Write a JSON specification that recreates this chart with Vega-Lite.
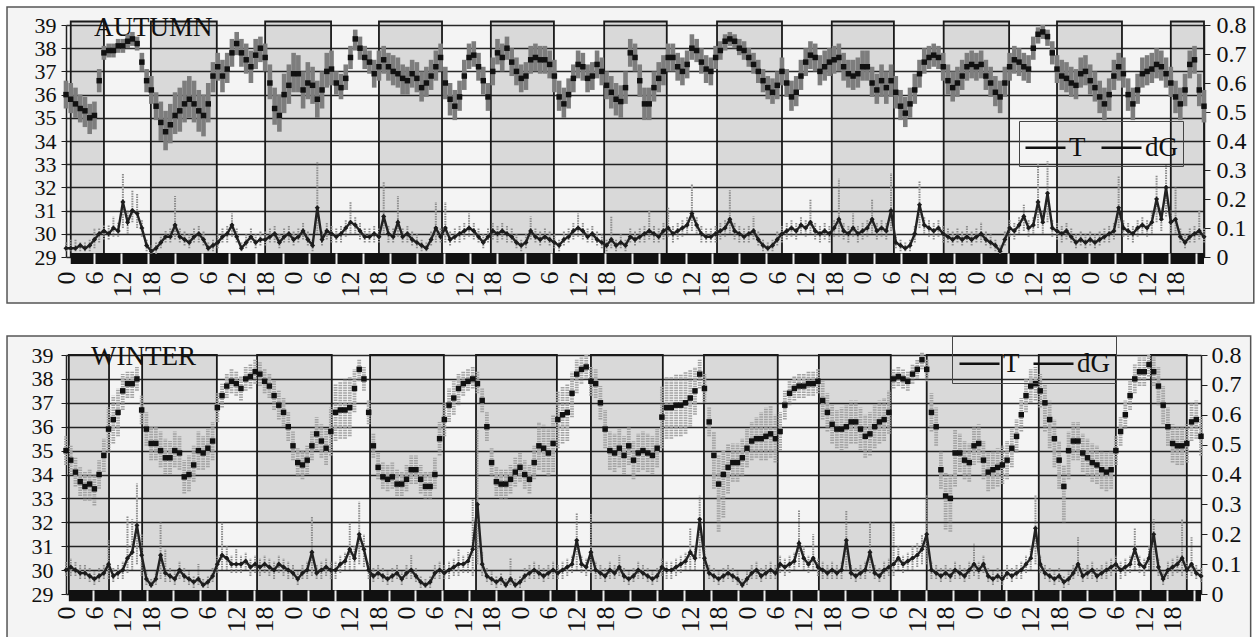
{
  "$schema": "https://vega.github.io/schema/vega-lite/v6.json",
  "background": "white",
  "padding": {"left": 6, "top": 6, "right": 2, "bottom": 2},
  "spacing": 31,
  "config": {
    "font": "Liberation Serif",
    "view": {"stroke": null},
    "axis": {"labelFont": "Liberation Serif", "labelColor": "#111"}
  },
  "resolve": {"scale": {"color": "independent", "x": "independent", "y": "independent"}, "legend": {"color": "independent"}},
  "datasets": {
    "nightA": [
      {"s": 1, "e": 8}, {"s": 17.9, "e": 31.8}, {"s": 42, "e": 55.9}, {"s": 66, "e": 79.3},
      {"s": 89.6, "e": 102.9}, {"s": 113.5, "e": 126.7}, {"s": 137.3, "e": 151}, {"s": 161.5, "e": 174.6},
      {"s": 185.1, "e": 198.9}, {"s": 209, "e": 222.7}, {"s": 233, "e": 240}
    ],
    "nightW": [
      {"s": 0.6, "e": 9.1}, {"s": 16.1, "e": 31.9}, {"s": 40.4, "e": 56.2}, {"s": 64.3, "e": 79.9},
      {"s": 86.7, "e": 103.8}, {"s": 111, "e": 126.2}, {"s": 134.9, "e": 150.5}, {"s": 159.2, "e": 174.4},
      {"s": 182, "e": 197.9}, {"s": 205.7, "e": 222}, {"s": 229.4, "e": 237}
    ],
    "autumn": [
      {"h":0,"t":36.0,"tl":35.4,"th":36.6,"g":0.03,"gl":0.02,"gh":0.05},
      {"h":1,"t":35.8,"tl":35.2,"th":36.5,"g":0.03,"gl":0.02,"gh":0.06},
      {"h":2,"t":35.6,"tl":35.0,"th":36.3,"g":0.03,"gl":0.02,"gh":0.06},
      {"h":3,"t":35.4,"tl":34.8,"th":36.0,"g":0.04,"gl":0.02,"gh":0.05},
      {"h":4,"t":35.3,"tl":34.6,"th":35.9,"g":0.03,"gl":0.02,"gh":0.05},
      {"h":5,"t":35.0,"tl":34.3,"th":35.6,"g":0.04,"gl":0.02,"gh":0.06},
      {"h":6,"t":35.1,"tl":34.5,"th":35.7,"g":0.06,"gl":0.03,"gh":0.1},
      {"h":7,"t":36.6,"tl":36.1,"th":37.1,"g":0.08,"gl":0.05,"gh":0.1},
      {"h":8,"t":37.8,"tl":37.5,"th":38.1,"g":0.09,"gl":0.06,"gh":0.11},
      {"h":9,"t":37.9,"tl":37.6,"th":38.2,"g":0.08,"gl":0.06,"gh":0.11},
      {"h":10,"t":37.9,"tl":37.6,"th":38.2,"g":0.1,"gl":0.07,"gh":0.14},
      {"h":11,"t":38.1,"tl":37.8,"th":38.4,"g":0.09,"gl":0.07,"gh":0.12},
      {"h":12,"t":38.1,"tl":37.8,"th":38.4,"g":0.19,"gl":0.1,"gh":0.29},
      {"h":13,"t":38.3,"tl":38.0,"th":38.6,"g":0.12,"gl":0.08,"gh":0.16},
      {"h":14,"t":38.4,"tl":38.1,"th":38.7,"g":0.16,"gl":0.12,"gh":0.23},
      {"h":15,"t":38.2,"tl":37.9,"th":38.5,"g":0.15,"gl":0.1,"gh":0.22},
      {"h":16,"t":37.4,"tl":37.0,"th":37.8,"g":0.1,"gl":0.07,"gh":0.13},
      {"h":17,"t":36.6,"tl":36.1,"th":37.1,"g":0.04,"gl":0.02,"gh":0.06},
      {"h":18,"t":36.2,"tl":35.6,"th":36.8,"g":0.02,"gl":0.01,"gh":0.04},
      {"h":19,"t":35.5,"tl":34.9,"th":36.1,"g":0.03,"gl":0.01,"gh":0.05},
      {"h":20,"t":34.8,"tl":34.0,"th":35.7,"g":0.05,"gl":0.03,"gh":0.07},
      {"h":21,"t":34.4,"tl":33.6,"th":35.3,"g":0.07,"gl":0.05,"gh":0.09},
      {"h":22,"t":34.7,"tl":33.9,"th":35.6,"g":0.07,"gl":0.05,"gh":0.1},
      {"h":23,"t":35.1,"tl":34.3,"th":36.1,"g":0.11,"gl":0.06,"gh":0.21},
      {"h":24,"t":35.3,"tl":34.4,"th":36.3,"g":0.07,"gl":0.05,"gh":0.1},
      {"h":25,"t":35.6,"tl":34.8,"th":36.6,"g":0.06,"gl":0.04,"gh":0.09},
      {"h":26,"t":35.8,"tl":35.0,"th":36.8,"g":0.05,"gl":0.03,"gh":0.08},
      {"h":27,"t":35.6,"tl":34.8,"th":36.6,"g":0.07,"gl":0.05,"gh":0.1},
      {"h":28,"t":35.3,"tl":34.4,"th":36.2,"g":0.08,"gl":0.05,"gh":0.11},
      {"h":29,"t":35.1,"tl":34.2,"th":36.0,"g":0.06,"gl":0.04,"gh":0.09},
      {"h":30,"t":35.6,"tl":34.8,"th":36.5,"g":0.03,"gl":0.02,"gh":0.05},
      {"h":31,"t":36.8,"tl":36.1,"th":37.4,"g":0.04,"gl":0.02,"gh":0.06},
      {"h":32,"t":37.2,"tl":36.6,"th":37.8,"g":0.05,"gl":0.03,"gh":0.08},
      {"h":33,"t":36.8,"tl":36.1,"th":37.5,"g":0.07,"gl":0.05,"gh":0.1},
      {"h":34,"t":37.1,"tl":36.5,"th":37.8,"g":0.08,"gl":0.05,"gh":0.11},
      {"h":35,"t":37.8,"tl":37.2,"th":38.4,"g":0.11,"gl":0.07,"gh":0.15},
      {"h":36,"t":38.2,"tl":37.7,"th":38.7,"g":0.07,"gl":0.05,"gh":0.1},
      {"h":37,"t":37.8,"tl":37.2,"th":38.4,"g":0.03,"gl":0.02,"gh":0.05},
      {"h":38,"t":37.5,"tl":36.9,"th":38.2,"g":0.05,"gl":0.03,"gh":0.08},
      {"h":39,"t":37.2,"tl":36.5,"th":37.9,"g":0.07,"gl":0.05,"gh":0.1},
      {"h":40,"t":37.7,"tl":37.1,"th":38.4,"g":0.05,"gl":0.03,"gh":0.08},
      {"h":41,"t":38.0,"tl":37.4,"th":38.5,"g":0.06,"gl":0.04,"gh":0.09},
      {"h":42,"t":37.6,"tl":37.0,"th":38.2,"g":0.06,"gl":0.04,"gh":0.09},
      {"h":43,"t":36.5,"tl":35.8,"th":37.3,"g":0.07,"gl":0.05,"gh":0.1},
      {"h":44,"t":35.4,"tl":34.7,"th":36.3,"g":0.08,"gl":0.05,"gh":0.11},
      {"h":45,"t":35.1,"tl":34.4,"th":36.0,"g":0.05,"gl":0.03,"gh":0.08},
      {"h":46,"t":36.0,"tl":35.2,"th":36.9,"g":0.07,"gl":0.05,"gh":0.1},
      {"h":47,"t":36.4,"tl":35.6,"th":37.3,"g":0.08,"gl":0.05,"gh":0.11},
      {"h":48,"t":36.9,"tl":36.1,"th":37.8,"g":0.06,"gl":0.04,"gh":0.09},
      {"h":49,"t":36.9,"tl":36.1,"th":37.7,"g":0.07,"gl":0.05,"gh":0.1},
      {"h":50,"t":36.2,"tl":35.4,"th":37.0,"g":0.09,"gl":0.06,"gh":0.12},
      {"h":51,"t":36.5,"tl":35.8,"th":37.4,"g":0.06,"gl":0.04,"gh":0.09},
      {"h":52,"t":36.4,"tl":35.6,"th":37.2,"g":0.04,"gl":0.02,"gh":0.06},
      {"h":53,"t":35.8,"tl":35.0,"th":36.6,"g":0.17,"gl":0.08,"gh":0.33},
      {"h":54,"t":36.2,"tl":35.4,"th":37.0,"g":0.06,"gl":0.04,"gh":0.09},
      {"h":55,"t":37.0,"tl":36.3,"th":37.8,"g":0.09,"gl":0.06,"gh":0.12},
      {"h":56,"t":37.1,"tl":36.4,"th":37.9,"g":0.08,"gl":0.05,"gh":0.11},
      {"h":57,"t":36.5,"tl":36.0,"th":37.0,"g":0.07,"gl":0.05,"gh":0.1},
      {"h":58,"t":36.3,"tl":35.8,"th":36.9,"g":0.08,"gl":0.05,"gh":0.11},
      {"h":59,"t":36.7,"tl":36.2,"th":37.3,"g":0.1,"gl":0.07,"gh":0.13},
      {"h":60,"t":37.6,"tl":37.1,"th":38.1,"g":0.12,"gl":0.08,"gh":0.19},
      {"h":61,"t":38.4,"tl":37.9,"th":38.8,"g":0.11,"gl":0.08,"gh":0.14},
      {"h":62,"t":38.0,"tl":37.5,"th":38.5,"g":0.09,"gl":0.06,"gh":0.12},
      {"h":63,"t":37.6,"tl":37.1,"th":38.1,"g":0.07,"gl":0.05,"gh":0.1},
      {"h":64,"t":37.4,"tl":36.9,"th":37.9,"g":0.07,"gl":0.05,"gh":0.1},
      {"h":65,"t":36.9,"tl":36.3,"th":37.5,"g":0.08,"gl":0.05,"gh":0.11},
      {"h":66,"t":37.2,"tl":36.6,"th":37.9,"g":0.07,"gl":0.05,"gh":0.1},
      {"h":67,"t":37.5,"tl":36.9,"th":38.1,"g":0.14,"gl":0.08,"gh":0.26},
      {"h":68,"t":37.2,"tl":36.6,"th":37.8,"g":0.08,"gl":0.05,"gh":0.11},
      {"h":69,"t":37.0,"tl":36.4,"th":37.7,"g":0.07,"gl":0.05,"gh":0.1},
      {"h":70,"t":36.9,"tl":36.3,"th":37.6,"g":0.12,"gl":0.07,"gh":0.21},
      {"h":71,"t":36.7,"tl":36.0,"th":37.3,"g":0.07,"gl":0.05,"gh":0.1},
      {"h":72,"t":36.6,"tl":36.0,"th":37.2,"g":0.08,"gl":0.05,"gh":0.11},
      {"h":73,"t":36.9,"tl":36.3,"th":37.5,"g":0.06,"gl":0.04,"gh":0.09},
      {"h":74,"t":36.7,"tl":36.1,"th":37.4,"g":0.05,"gl":0.03,"gh":0.08},
      {"h":75,"t":36.3,"tl":35.7,"th":37.0,"g":0.04,"gl":0.02,"gh":0.06},
      {"h":76,"t":36.5,"tl":35.9,"th":37.2,"g":0.03,"gl":0.02,"gh":0.05},
      {"h":77,"t":36.8,"tl":36.2,"th":37.5,"g":0.06,"gl":0.04,"gh":0.09},
      {"h":78,"t":37.2,"tl":36.6,"th":37.9,"g":0.1,"gl":0.05,"gh":0.19},
      {"h":79,"t":37.6,"tl":37.0,"th":38.2,"g":0.07,"gl":0.05,"gh":0.1},
      {"h":80,"t":36.5,"tl":35.8,"th":37.2,"g":0.1,"gl":0.05,"gh":0.19},
      {"h":81,"t":35.8,"tl":35.1,"th":36.5,"g":0.06,"gl":0.04,"gh":0.09},
      {"h":82,"t":35.5,"tl":34.9,"th":36.2,"g":0.07,"gl":0.05,"gh":0.1},
      {"h":83,"t":35.9,"tl":35.3,"th":36.6,"g":0.08,"gl":0.05,"gh":0.11},
      {"h":84,"t":36.8,"tl":36.2,"th":37.5,"g":0.09,"gl":0.06,"gh":0.12},
      {"h":85,"t":37.6,"tl":37.1,"th":38.2,"g":0.1,"gl":0.07,"gh":0.15},
      {"h":86,"t":37.7,"tl":37.2,"th":38.3,"g":0.09,"gl":0.06,"gh":0.12},
      {"h":87,"t":37.2,"tl":36.6,"th":37.8,"g":0.07,"gl":0.05,"gh":0.1},
      {"h":88,"t":36.6,"tl":36.0,"th":37.2,"g":0.05,"gl":0.03,"gh":0.08},
      {"h":89,"t":35.9,"tl":35.3,"th":36.5,"g":0.07,"gl":0.05,"gh":0.1},
      {"h":90,"t":37.0,"tl":36.4,"th":37.6,"g":0.09,"gl":0.06,"gh":0.12},
      {"h":91,"t":37.8,"tl":37.3,"th":38.4,"g":0.08,"gl":0.05,"gh":0.11},
      {"h":92,"t":37.6,"tl":37.0,"th":38.2,"g":0.09,"gl":0.06,"gh":0.12},
      {"h":93,"t":38.0,"tl":37.5,"th":38.5,"g":0.08,"gl":0.05,"gh":0.11},
      {"h":94,"t":37.4,"tl":36.8,"th":38.0,"g":0.07,"gl":0.05,"gh":0.1},
      {"h":95,"t":37.0,"tl":36.4,"th":37.6,"g":0.05,"gl":0.03,"gh":0.08},
      {"h":96,"t":36.7,"tl":36.1,"th":37.3,"g":0.04,"gl":0.02,"gh":0.06},
      {"h":97,"t":36.8,"tl":36.2,"th":37.4,"g":0.05,"gl":0.03,"gh":0.08},
      {"h":98,"t":37.5,"tl":36.9,"th":38.1,"g":0.09,"gl":0.06,"gh":0.14},
      {"h":99,"t":37.6,"tl":37.0,"th":38.2,"g":0.07,"gl":0.05,"gh":0.1},
      {"h":100,"t":37.5,"tl":36.9,"th":38.1,"g":0.06,"gl":0.04,"gh":0.09},
      {"h":101,"t":37.5,"tl":36.9,"th":38.1,"g":0.07,"gl":0.05,"gh":0.1},
      {"h":102,"t":37.3,"tl":36.7,"th":37.9,"g":0.06,"gl":0.04,"gh":0.09},
      {"h":103,"t":36.8,"tl":36.1,"th":37.5,"g":0.05,"gl":0.03,"gh":0.08},
      {"h":104,"t":35.9,"tl":35.3,"th":36.6,"g":0.04,"gl":0.02,"gh":0.06},
      {"h":105,"t":35.6,"tl":35.0,"th":36.3,"g":0.06,"gl":0.04,"gh":0.09},
      {"h":106,"t":36.0,"tl":35.4,"th":36.7,"g":0.07,"gl":0.05,"gh":0.1},
      {"h":107,"t":36.7,"tl":36.1,"th":37.3,"g":0.09,"gl":0.06,"gh":0.12},
      {"h":108,"t":37.3,"tl":36.7,"th":37.9,"g":0.1,"gl":0.07,"gh":0.15},
      {"h":109,"t":37.2,"tl":36.6,"th":37.8,"g":0.09,"gl":0.06,"gh":0.12},
      {"h":110,"t":36.7,"tl":36.1,"th":37.3,"g":0.07,"gl":0.05,"gh":0.1},
      {"h":111,"t":36.8,"tl":36.2,"th":37.4,"g":0.08,"gl":0.05,"gh":0.11},
      {"h":112,"t":37.3,"tl":36.7,"th":37.9,"g":0.06,"gl":0.04,"gh":0.09},
      {"h":113,"t":37.0,"tl":36.4,"th":37.6,"g":0.05,"gl":0.03,"gh":0.08},
      {"h":114,"t":36.4,"tl":35.8,"th":37.0,"g":0.04,"gl":0.02,"gh":0.06},
      {"h":115,"t":36.1,"tl":35.4,"th":36.8,"g":0.06,"gl":0.03,"gh":0.14},
      {"h":116,"t":35.8,"tl":35.1,"th":36.5,"g":0.04,"gl":0.02,"gh":0.06},
      {"h":117,"t":35.7,"tl":35.0,"th":36.4,"g":0.05,"gl":0.03,"gh":0.08},
      {"h":118,"t":36.3,"tl":35.6,"th":37.0,"g":0.04,"gl":0.02,"gh":0.06},
      {"h":119,"t":37.8,"tl":37.2,"th":38.4,"g":0.07,"gl":0.05,"gh":0.1},
      {"h":120,"t":37.6,"tl":37.0,"th":38.2,"g":0.06,"gl":0.04,"gh":0.09},
      {"h":121,"t":36.6,"tl":35.9,"th":37.3,"g":0.07,"gl":0.05,"gh":0.1},
      {"h":122,"t":35.6,"tl":34.9,"th":36.3,"g":0.08,"gl":0.05,"gh":0.11},
      {"h":123,"t":35.6,"tl":34.9,"th":36.3,"g":0.09,"gl":0.06,"gh":0.16},
      {"h":124,"t":36.3,"tl":35.7,"th":37.0,"g":0.08,"gl":0.05,"gh":0.11},
      {"h":125,"t":36.7,"tl":36.1,"th":37.4,"g":0.07,"gl":0.05,"gh":0.1},
      {"h":126,"t":37.0,"tl":36.4,"th":37.7,"g":0.09,"gl":0.06,"gh":0.12},
      {"h":127,"t":37.6,"tl":37.0,"th":38.2,"g":0.1,"gl":0.07,"gh":0.17},
      {"h":128,"t":37.6,"tl":37.0,"th":38.2,"g":0.08,"gl":0.05,"gh":0.11},
      {"h":129,"t":37.2,"tl":36.6,"th":37.8,"g":0.09,"gl":0.06,"gh":0.12},
      {"h":130,"t":37.0,"tl":36.4,"th":37.6,"g":0.1,"gl":0.07,"gh":0.13},
      {"h":131,"t":37.3,"tl":36.7,"th":37.9,"g":0.11,"gl":0.08,"gh":0.14},
      {"h":132,"t":38.0,"tl":37.5,"th":38.6,"g":0.15,"gl":0.09,"gh":0.25},
      {"h":133,"t":37.9,"tl":37.4,"th":38.4,"g":0.11,"gl":0.08,"gh":0.14},
      {"h":134,"t":37.4,"tl":36.9,"th":38.0,"g":0.08,"gl":0.05,"gh":0.11},
      {"h":135,"t":37.1,"tl":36.5,"th":37.7,"g":0.07,"gl":0.05,"gh":0.1},
      {"h":136,"t":37.0,"tl":36.4,"th":37.6,"g":0.07,"gl":0.05,"gh":0.1},
      {"h":137,"t":37.6,"tl":37.1,"th":38.1,"g":0.08,"gl":0.05,"gh":0.11},
      {"h":138,"t":37.9,"tl":37.5,"th":38.3,"g":0.09,"gl":0.06,"gh":0.12},
      {"h":139,"t":38.3,"tl":37.9,"th":38.6,"g":0.1,"gl":0.07,"gh":0.13},
      {"h":140,"t":38.4,"tl":38.1,"th":38.7,"g":0.13,"gl":0.08,"gh":0.23},
      {"h":141,"t":38.3,"tl":38.0,"th":38.6,"g":0.09,"gl":0.06,"gh":0.12},
      {"h":142,"t":38.0,"tl":37.7,"th":38.4,"g":0.08,"gl":0.05,"gh":0.11},
      {"h":143,"t":37.9,"tl":37.5,"th":38.3,"g":0.07,"gl":0.05,"gh":0.1},
      {"h":144,"t":37.6,"tl":37.2,"th":38.0,"g":0.08,"gl":0.05,"gh":0.11},
      {"h":145,"t":37.3,"tl":36.9,"th":37.8,"g":0.09,"gl":0.06,"gh":0.14},
      {"h":146,"t":37.0,"tl":36.5,"th":37.5,"g":0.06,"gl":0.04,"gh":0.09},
      {"h":147,"t":36.6,"tl":36.1,"th":37.1,"g":0.04,"gl":0.02,"gh":0.06},
      {"h":148,"t":36.3,"tl":35.8,"th":36.8,"g":0.03,"gl":0.02,"gh":0.05},
      {"h":149,"t":36.1,"tl":35.6,"th":36.7,"g":0.04,"gl":0.02,"gh":0.06},
      {"h":150,"t":36.4,"tl":35.8,"th":37.0,"g":0.06,"gl":0.04,"gh":0.09},
      {"h":151,"t":37.0,"tl":36.4,"th":37.6,"g":0.08,"gl":0.05,"gh":0.11},
      {"h":152,"t":36.5,"tl":35.9,"th":37.1,"g":0.09,"gl":0.06,"gh":0.12},
      {"h":153,"t":35.9,"tl":35.3,"th":36.6,"g":0.1,"gl":0.07,"gh":0.13},
      {"h":154,"t":36.1,"tl":35.5,"th":36.8,"g":0.09,"gl":0.06,"gh":0.12},
      {"h":155,"t":36.8,"tl":36.2,"th":37.5,"g":0.11,"gl":0.08,"gh":0.14},
      {"h":156,"t":37.4,"tl":36.8,"th":38.0,"g":0.1,"gl":0.07,"gh":0.13},
      {"h":157,"t":37.7,"tl":37.1,"th":38.3,"g":0.12,"gl":0.08,"gh":0.2},
      {"h":158,"t":37.6,"tl":37.0,"th":38.2,"g":0.09,"gl":0.06,"gh":0.12},
      {"h":159,"t":37.0,"tl":36.4,"th":37.7,"g":0.08,"gl":0.05,"gh":0.11},
      {"h":160,"t":37.2,"tl":36.6,"th":37.9,"g":0.09,"gl":0.06,"gh":0.12},
      {"h":161,"t":37.4,"tl":36.8,"th":38.0,"g":0.08,"gl":0.05,"gh":0.11},
      {"h":162,"t":37.5,"tl":36.9,"th":38.1,"g":0.1,"gl":0.07,"gh":0.13},
      {"h":163,"t":37.6,"tl":37.0,"th":38.2,"g":0.13,"gl":0.07,"gh":0.27},
      {"h":164,"t":37.2,"tl":36.6,"th":37.8,"g":0.09,"gl":0.06,"gh":0.12},
      {"h":165,"t":36.9,"tl":36.3,"th":37.5,"g":0.08,"gl":0.05,"gh":0.11},
      {"h":166,"t":36.8,"tl":36.2,"th":37.5,"g":0.1,"gl":0.07,"gh":0.15},
      {"h":167,"t":36.9,"tl":36.3,"th":37.6,"g":0.08,"gl":0.05,"gh":0.11},
      {"h":168,"t":37.2,"tl":36.6,"th":37.9,"g":0.09,"gl":0.06,"gh":0.12},
      {"h":169,"t":37.2,"tl":36.6,"th":37.9,"g":0.1,"gl":0.07,"gh":0.13},
      {"h":170,"t":36.5,"tl":35.9,"th":37.2,"g":0.13,"gl":0.08,"gh":0.2},
      {"h":171,"t":36.2,"tl":35.6,"th":36.9,"g":0.09,"gl":0.06,"gh":0.12},
      {"h":172,"t":36.6,"tl":35.9,"th":37.3,"g":0.1,"gl":0.07,"gh":0.13},
      {"h":173,"t":36.3,"tl":35.6,"th":37.0,"g":0.09,"gl":0.06,"gh":0.12},
      {"h":174,"t":36.6,"tl":35.9,"th":37.3,"g":0.16,"gl":0.09,"gh":0.29},
      {"h":175,"t":36.1,"tl":35.4,"th":36.8,"g":0.05,"gl":0.03,"gh":0.08},
      {"h":176,"t":35.5,"tl":34.9,"th":36.2,"g":0.04,"gl":0.02,"gh":0.06},
      {"h":177,"t":35.2,"tl":34.6,"th":35.9,"g":0.03,"gl":0.02,"gh":0.05},
      {"h":178,"t":35.6,"tl":35.0,"th":36.3,"g":0.04,"gl":0.02,"gh":0.06},
      {"h":179,"t":36.2,"tl":35.6,"th":36.9,"g":0.08,"gl":0.05,"gh":0.11},
      {"h":180,"t":36.9,"tl":36.3,"th":37.5,"g":0.18,"gl":0.1,"gh":0.26},
      {"h":181,"t":37.4,"tl":36.9,"th":38.0,"g":0.11,"gl":0.08,"gh":0.14},
      {"h":182,"t":37.6,"tl":37.1,"th":38.1,"g":0.1,"gl":0.07,"gh":0.13},
      {"h":183,"t":37.7,"tl":37.2,"th":38.2,"g":0.09,"gl":0.06,"gh":0.12},
      {"h":184,"t":37.6,"tl":37.1,"th":38.1,"g":0.1,"gl":0.07,"gh":0.13},
      {"h":185,"t":37.2,"tl":36.6,"th":37.8,"g":0.08,"gl":0.05,"gh":0.11},
      {"h":186,"t":36.6,"tl":36.0,"th":37.3,"g":0.07,"gl":0.05,"gh":0.1},
      {"h":187,"t":36.3,"tl":35.7,"th":37.0,"g":0.06,"gl":0.04,"gh":0.09},
      {"h":188,"t":36.5,"tl":35.9,"th":37.2,"g":0.07,"gl":0.05,"gh":0.1},
      {"h":189,"t":36.8,"tl":36.2,"th":37.5,"g":0.06,"gl":0.04,"gh":0.09},
      {"h":190,"t":37.2,"tl":36.6,"th":37.8,"g":0.07,"gl":0.05,"gh":0.11},
      {"h":191,"t":37.3,"tl":36.7,"th":37.9,"g":0.06,"gl":0.04,"gh":0.09},
      {"h":192,"t":37.2,"tl":36.6,"th":37.8,"g":0.07,"gl":0.05,"gh":0.1},
      {"h":193,"t":37.3,"tl":36.7,"th":37.9,"g":0.08,"gl":0.05,"gh":0.12},
      {"h":194,"t":36.8,"tl":36.2,"th":37.5,"g":0.06,"gl":0.04,"gh":0.09},
      {"h":195,"t":36.5,"tl":35.9,"th":37.2,"g":0.05,"gl":0.03,"gh":0.08},
      {"h":196,"t":36.1,"tl":35.5,"th":36.8,"g":0.04,"gl":0.02,"gh":0.06},
      {"h":197,"t":35.9,"tl":35.2,"th":36.6,"g":0.02,"gl":0.01,"gh":0.04},
      {"h":198,"t":36.5,"tl":35.9,"th":37.2,"g":0.06,"gl":0.04,"gh":0.09},
      {"h":199,"t":37.2,"tl":36.6,"th":37.8,"g":0.1,"gl":0.07,"gh":0.13},
      {"h":200,"t":37.5,"tl":36.9,"th":38.1,"g":0.09,"gl":0.06,"gh":0.12},
      {"h":201,"t":37.4,"tl":36.8,"th":38.0,"g":0.11,"gl":0.08,"gh":0.14},
      {"h":202,"t":37.2,"tl":36.6,"th":37.8,"g":0.14,"gl":0.09,"gh":0.18},
      {"h":203,"t":37.1,"tl":36.5,"th":37.7,"g":0.1,"gl":0.07,"gh":0.13},
      {"h":204,"t":38.0,"tl":37.5,"th":38.5,"g":0.11,"gl":0.08,"gh":0.14},
      {"h":205,"t":38.6,"tl":38.2,"th":38.9,"g":0.19,"gl":0.1,"gh":0.32},
      {"h":206,"t":38.7,"tl":38.4,"th":39.0,"g":0.12,"gl":0.08,"gh":0.16},
      {"h":207,"t":38.5,"tl":38.1,"th":38.8,"g":0.22,"gl":0.12,"gh":0.33},
      {"h":208,"t":37.8,"tl":37.3,"th":38.3,"g":0.1,"gl":0.07,"gh":0.13},
      {"h":209,"t":37.1,"tl":36.5,"th":37.7,"g":0.09,"gl":0.06,"gh":0.12},
      {"h":210,"t":36.8,"tl":36.2,"th":37.5,"g":0.08,"gl":0.05,"gh":0.11},
      {"h":211,"t":36.7,"tl":36.1,"th":37.4,"g":0.09,"gl":0.06,"gh":0.12},
      {"h":212,"t":36.5,"tl":35.9,"th":37.2,"g":0.07,"gl":0.05,"gh":0.1},
      {"h":213,"t":36.4,"tl":35.8,"th":37.1,"g":0.05,"gl":0.03,"gh":0.08},
      {"h":214,"t":36.9,"tl":36.3,"th":37.6,"g":0.06,"gl":0.04,"gh":0.09},
      {"h":215,"t":37.0,"tl":36.4,"th":37.7,"g":0.05,"gl":0.03,"gh":0.08},
      {"h":216,"t":36.6,"tl":36.0,"th":37.3,"g":0.06,"gl":0.04,"gh":0.09},
      {"h":217,"t":36.3,"tl":35.7,"th":37.0,"g":0.05,"gl":0.03,"gh":0.08},
      {"h":218,"t":35.9,"tl":35.2,"th":36.6,"g":0.06,"gl":0.04,"gh":0.09},
      {"h":219,"t":35.6,"tl":34.9,"th":36.3,"g":0.07,"gl":0.05,"gh":0.1},
      {"h":220,"t":36.0,"tl":35.3,"th":36.7,"g":0.08,"gl":0.05,"gh":0.11},
      {"h":221,"t":36.8,"tl":36.2,"th":37.5,"g":0.09,"gl":0.06,"gh":0.12},
      {"h":222,"t":37.2,"tl":36.6,"th":37.8,"g":0.17,"gl":0.1,"gh":0.28},
      {"h":223,"t":36.9,"tl":36.3,"th":37.6,"g":0.1,"gl":0.07,"gh":0.13},
      {"h":224,"t":36.0,"tl":35.3,"th":36.7,"g":0.09,"gl":0.06,"gh":0.12},
      {"h":225,"t":35.6,"tl":34.9,"th":36.3,"g":0.08,"gl":0.05,"gh":0.11},
      {"h":226,"t":36.2,"tl":35.6,"th":36.9,"g":0.1,"gl":0.07,"gh":0.13},
      {"h":227,"t":36.9,"tl":36.3,"th":37.6,"g":0.11,"gl":0.08,"gh":0.14},
      {"h":228,"t":37.0,"tl":36.4,"th":37.7,"g":0.1,"gl":0.07,"gh":0.13},
      {"h":229,"t":37.1,"tl":36.5,"th":37.8,"g":0.12,"gl":0.08,"gh":0.16},
      {"h":230,"t":37.3,"tl":36.7,"th":38.0,"g":0.2,"gl":0.12,"gh":0.28},
      {"h":231,"t":37.2,"tl":36.6,"th":37.9,"g":0.13,"gl":0.09,"gh":0.17},
      {"h":232,"t":36.9,"tl":36.3,"th":37.6,"g":0.24,"gl":0.14,"gh":0.32},
      {"h":233,"t":36.5,"tl":35.9,"th":37.2,"g":0.12,"gl":0.08,"gh":0.16},
      {"h":234,"t":35.9,"tl":35.2,"th":36.6,"g":0.13,"gl":0.08,"gh":0.24},
      {"h":235,"t":35.6,"tl":34.9,"th":36.3,"g":0.07,"gl":0.05,"gh":0.1},
      {"h":236,"t":36.2,"tl":35.5,"th":36.9,"g":0.05,"gl":0.03,"gh":0.08},
      {"h":237,"t":37.3,"tl":36.7,"th":37.9,"g":0.07,"gl":0.05,"gh":0.1},
      {"h":238,"t":37.5,"tl":36.9,"th":38.1,"g":0.08,"gl":0.05,"gh":0.11},
      {"h":239,"t":36.2,"tl":35.5,"th":36.9,"g":0.09,"gl":0.06,"gh":0.16},
      {"h":240,"t":35.5,"tl":34.8,"th":36.2,"g":0.07,"gl":0.05,"gh":0.1}
    ],
    "winter": [
      {"h":0,"t":35.0,"tl":34.4,"th":35.6,"g":0.08,"gl":0.06,"gh":0.11},
      {"h":1,"t":34.6,"tl":34.0,"th":35.2,"g":0.09,"gl":0.06,"gh":0.12},
      {"h":2,"t":34.1,"tl":33.5,"th":34.7,"g":0.08,"gl":0.06,"gh":0.11},
      {"h":3,"t":33.7,"tl":33.1,"th":34.3,"g":0.07,"gl":0.05,"gh":0.1},
      {"h":4,"t":33.5,"tl":32.9,"th":34.1,"g":0.07,"gl":0.05,"gh":0.1},
      {"h":5,"t":33.6,"tl":32.9,"th":34.2,"g":0.06,"gl":0.04,"gh":0.09},
      {"h":6,"t":33.4,"tl":32.7,"th":34.0,"g":0.05,"gl":0.03,"gh":0.08},
      {"h":7,"t":34.0,"tl":33.4,"th":34.6,"g":0.06,"gl":0.04,"gh":0.09},
      {"h":8,"t":34.8,"tl":34.1,"th":35.5,"g":0.07,"gl":0.05,"gh":0.1},
      {"h":9,"t":35.9,"tl":34.9,"th":36.8,"g":0.1,"gl":0.05,"gh":0.18},
      {"h":10,"t":36.3,"tl":35.3,"th":37.3,"g":0.06,"gl":0.04,"gh":0.09},
      {"h":11,"t":36.6,"tl":35.6,"th":37.6,"g":0.07,"gl":0.05,"gh":0.1},
      {"h":12,"t":37.5,"tl":36.7,"th":38.2,"g":0.08,"gl":0.05,"gh":0.11},
      {"h":13,"t":37.8,"tl":37.2,"th":38.3,"g":0.12,"gl":0.07,"gh":0.26},
      {"h":14,"t":37.8,"tl":37.2,"th":38.3,"g":0.14,"gl":0.08,"gh":0.25},
      {"h":15,"t":38.0,"tl":37.5,"th":38.5,"g":0.23,"gl":0.1,"gh":0.37},
      {"h":16,"t":36.7,"tl":36.1,"th":37.3,"g":0.13,"gl":0.06,"gh":0.2},
      {"h":17,"t":35.9,"tl":35.2,"th":36.6,"g":0.05,"gl":0.03,"gh":0.08},
      {"h":18,"t":35.3,"tl":34.6,"th":36.0,"g":0.03,"gl":0.02,"gh":0.05},
      {"h":19,"t":35.3,"tl":34.6,"th":36.0,"g":0.05,"gl":0.03,"gh":0.08},
      {"h":20,"t":35.0,"tl":34.3,"th":35.8,"g":0.13,"gl":0.05,"gh":0.24},
      {"h":21,"t":34.7,"tl":34.0,"th":35.5,"g":0.07,"gl":0.04,"gh":0.15},
      {"h":22,"t":34.7,"tl":34.0,"th":35.4,"g":0.06,"gl":0.04,"gh":0.09},
      {"h":23,"t":35.0,"tl":34.3,"th":35.8,"g":0.05,"gl":0.03,"gh":0.08},
      {"h":24,"t":34.9,"tl":34.2,"th":35.6,"g":0.08,"gl":0.05,"gh":0.11},
      {"h":25,"t":33.9,"tl":33.2,"th":34.6,"g":0.06,"gl":0.04,"gh":0.09},
      {"h":26,"t":34.0,"tl":33.3,"th":34.8,"g":0.05,"gl":0.03,"gh":0.08},
      {"h":27,"t":34.4,"tl":33.7,"th":35.2,"g":0.04,"gl":0.02,"gh":0.06},
      {"h":28,"t":35.0,"tl":34.2,"th":35.8,"g":0.05,"gl":0.03,"gh":0.1},
      {"h":29,"t":34.9,"tl":34.2,"th":35.6,"g":0.03,"gl":0.02,"gh":0.05},
      {"h":30,"t":35.1,"tl":34.3,"th":35.9,"g":0.04,"gl":0.02,"gh":0.06},
      {"h":31,"t":35.4,"tl":34.6,"th":36.2,"g":0.06,"gl":0.04,"gh":0.09},
      {"h":32,"t":36.8,"tl":36.2,"th":37.4,"g":0.1,"gl":0.07,"gh":0.13},
      {"h":33,"t":37.3,"tl":36.8,"th":37.8,"g":0.13,"gl":0.08,"gh":0.24},
      {"h":34,"t":37.7,"tl":37.2,"th":38.2,"g":0.12,"gl":0.08,"gh":0.16},
      {"h":35,"t":37.9,"tl":37.4,"th":38.4,"g":0.1,"gl":0.07,"gh":0.13},
      {"h":36,"t":37.8,"tl":37.3,"th":38.3,"g":0.1,"gl":0.07,"gh":0.15},
      {"h":37,"t":37.6,"tl":37.1,"th":38.1,"g":0.1,"gl":0.07,"gh":0.13},
      {"h":38,"t":38.0,"tl":37.5,"th":38.5,"g":0.11,"gl":0.08,"gh":0.14},
      {"h":39,"t":38.1,"tl":37.6,"th":38.6,"g":0.09,"gl":0.06,"gh":0.12},
      {"h":40,"t":38.3,"tl":37.8,"th":38.8,"g":0.1,"gl":0.07,"gh":0.13},
      {"h":41,"t":38.2,"tl":37.7,"th":38.7,"g":0.09,"gl":0.06,"gh":0.12},
      {"h":42,"t":37.9,"tl":37.4,"th":38.4,"g":0.1,"gl":0.07,"gh":0.13},
      {"h":43,"t":37.7,"tl":37.2,"th":38.2,"g":0.09,"gl":0.06,"gh":0.12},
      {"h":44,"t":37.3,"tl":36.7,"th":37.9,"g":0.08,"gl":0.05,"gh":0.11},
      {"h":45,"t":36.9,"tl":36.3,"th":37.5,"g":0.1,"gl":0.07,"gh":0.13},
      {"h":46,"t":36.6,"tl":36.0,"th":37.2,"g":0.09,"gl":0.06,"gh":0.12},
      {"h":47,"t":36.0,"tl":35.4,"th":36.6,"g":0.08,"gl":0.05,"gh":0.11},
      {"h":48,"t":35.2,"tl":34.6,"th":35.8,"g":0.07,"gl":0.05,"gh":0.1},
      {"h":49,"t":34.5,"tl":33.9,"th":35.1,"g":0.05,"gl":0.03,"gh":0.08},
      {"h":50,"t":34.4,"tl":33.8,"th":35.0,"g":0.07,"gl":0.05,"gh":0.1},
      {"h":51,"t":34.6,"tl":34.0,"th":35.2,"g":0.08,"gl":0.05,"gh":0.11},
      {"h":52,"t":35.2,"tl":34.6,"th":35.8,"g":0.14,"gl":0.06,"gh":0.26},
      {"h":53,"t":35.7,"tl":35.0,"th":36.4,"g":0.07,"gl":0.05,"gh":0.1},
      {"h":54,"t":35.4,"tl":34.7,"th":36.1,"g":0.08,"gl":0.05,"gh":0.11},
      {"h":55,"t":35.1,"tl":34.4,"th":35.9,"g":0.09,"gl":0.06,"gh":0.12},
      {"h":56,"t":35.8,"tl":34.8,"th":36.8,"g":0.08,"gl":0.05,"gh":0.11},
      {"h":57,"t":36.6,"tl":35.4,"th":37.8,"g":0.08,"gl":0.05,"gh":0.11},
      {"h":58,"t":36.7,"tl":35.5,"th":37.9,"g":0.1,"gl":0.07,"gh":0.13},
      {"h":59,"t":36.7,"tl":35.5,"th":38.0,"g":0.11,"gl":0.08,"gh":0.14},
      {"h":60,"t":36.8,"tl":35.6,"th":38.1,"g":0.15,"gl":0.08,"gh":0.24},
      {"h":61,"t":37.6,"tl":36.6,"th":38.4,"g":0.12,"gl":0.08,"gh":0.16},
      {"h":62,"t":38.4,"tl":37.9,"th":38.8,"g":0.2,"gl":0.1,"gh":0.31},
      {"h":63,"t":38.0,"tl":37.5,"th":38.5,"g":0.15,"gl":0.09,"gh":0.2},
      {"h":64,"t":36.6,"tl":36.1,"th":37.1,"g":0.08,"gl":0.05,"gh":0.11},
      {"h":65,"t":35.2,"tl":34.7,"th":35.7,"g":0.06,"gl":0.04,"gh":0.09},
      {"h":66,"t":34.3,"tl":33.8,"th":34.9,"g":0.07,"gl":0.05,"gh":0.1},
      {"h":67,"t":33.9,"tl":33.4,"th":34.5,"g":0.06,"gl":0.04,"gh":0.09},
      {"h":68,"t":33.8,"tl":33.3,"th":34.4,"g":0.05,"gl":0.03,"gh":0.08},
      {"h":69,"t":33.9,"tl":33.4,"th":34.5,"g":0.06,"gl":0.04,"gh":0.09},
      {"h":70,"t":33.6,"tl":33.1,"th":34.2,"g":0.07,"gl":0.05,"gh":0.1},
      {"h":71,"t":33.6,"tl":33.1,"th":34.1,"g":0.05,"gl":0.03,"gh":0.08},
      {"h":72,"t":33.8,"tl":33.3,"th":34.4,"g":0.07,"gl":0.05,"gh":0.1},
      {"h":73,"t":34.2,"tl":33.6,"th":34.8,"g":0.08,"gl":0.05,"gh":0.13},
      {"h":74,"t":34.2,"tl":33.6,"th":34.8,"g":0.06,"gl":0.04,"gh":0.09},
      {"h":75,"t":33.8,"tl":33.2,"th":34.4,"g":0.04,"gl":0.02,"gh":0.06},
      {"h":76,"t":33.5,"tl":33.0,"th":34.1,"g":0.03,"gl":0.02,"gh":0.05},
      {"h":77,"t":33.5,"tl":33.0,"th":34.1,"g":0.04,"gl":0.02,"gh":0.06},
      {"h":78,"t":34.0,"tl":33.4,"th":34.7,"g":0.07,"gl":0.05,"gh":0.1},
      {"h":79,"t":35.5,"tl":34.8,"th":36.2,"g":0.08,"gl":0.05,"gh":0.11},
      {"h":80,"t":36.3,"tl":35.6,"th":37.0,"g":0.07,"gl":0.05,"gh":0.1},
      {"h":81,"t":36.9,"tl":36.2,"th":37.6,"g":0.08,"gl":0.05,"gh":0.11},
      {"h":82,"t":37.2,"tl":36.5,"th":37.9,"g":0.09,"gl":0.06,"gh":0.12},
      {"h":83,"t":37.6,"tl":36.9,"th":38.2,"g":0.1,"gl":0.06,"gh":0.15},
      {"h":84,"t":37.8,"tl":37.3,"th":38.3,"g":0.1,"gl":0.07,"gh":0.13},
      {"h":85,"t":37.9,"tl":37.5,"th":38.4,"g":0.11,"gl":0.07,"gh":0.14},
      {"h":86,"t":38.0,"tl":37.6,"th":38.5,"g":0.15,"gl":0.06,"gh":0.32},
      {"h":87,"t":37.8,"tl":37.4,"th":38.3,"g":0.3,"gl":0.1,"gh":0.55},
      {"h":88,"t":37.1,"tl":36.6,"th":37.6,"g":0.1,"gl":0.06,"gh":0.14},
      {"h":89,"t":36.0,"tl":35.4,"th":36.6,"g":0.06,"gl":0.04,"gh":0.09},
      {"h":90,"t":34.5,"tl":33.9,"th":35.1,"g":0.05,"gl":0.03,"gh":0.08},
      {"h":91,"t":33.7,"tl":33.1,"th":34.3,"g":0.04,"gl":0.02,"gh":0.06},
      {"h":92,"t":33.6,"tl":33.0,"th":34.2,"g":0.05,"gl":0.03,"gh":0.07},
      {"h":93,"t":33.6,"tl":33.0,"th":34.2,"g":0.03,"gl":0.02,"gh":0.05},
      {"h":94,"t":33.8,"tl":33.2,"th":34.4,"g":0.05,"gl":0.03,"gh":0.12},
      {"h":95,"t":34.1,"tl":33.5,"th":34.7,"g":0.03,"gl":0.02,"gh":0.05},
      {"h":96,"t":34.3,"tl":33.7,"th":34.9,"g":0.04,"gl":0.02,"gh":0.06},
      {"h":97,"t":34.0,"tl":33.4,"th":34.6,"g":0.06,"gl":0.04,"gh":0.09},
      {"h":98,"t":33.8,"tl":33.2,"th":34.4,"g":0.07,"gl":0.05,"gh":0.1},
      {"h":99,"t":34.5,"tl":33.8,"th":35.2,"g":0.08,"gl":0.05,"gh":0.11},
      {"h":100,"t":35.2,"tl":34.2,"th":36.2,"g":0.07,"gl":0.05,"gh":0.1},
      {"h":101,"t":35.1,"tl":34.1,"th":36.1,"g":0.06,"gl":0.04,"gh":0.09},
      {"h":102,"t":34.9,"tl":33.9,"th":35.9,"g":0.07,"gl":0.05,"gh":0.1},
      {"h":103,"t":35.3,"tl":34.1,"th":36.5,"g":0.08,"gl":0.05,"gh":0.11},
      {"h":104,"t":36.3,"tl":35.1,"th":37.5,"g":0.07,"gl":0.05,"gh":0.1},
      {"h":105,"t":36.5,"tl":35.3,"th":37.7,"g":0.08,"gl":0.05,"gh":0.11},
      {"h":106,"t":36.6,"tl":35.4,"th":37.8,"g":0.09,"gl":0.06,"gh":0.12},
      {"h":107,"t":37.4,"tl":36.4,"th":38.3,"g":0.1,"gl":0.07,"gh":0.13},
      {"h":108,"t":38.2,"tl":37.4,"th":38.8,"g":0.18,"gl":0.08,"gh":0.27},
      {"h":109,"t":38.4,"tl":37.8,"th":38.9,"g":0.1,"gl":0.07,"gh":0.13},
      {"h":110,"t":38.5,"tl":38.0,"th":39.0,"g":0.09,"gl":0.06,"gh":0.12},
      {"h":111,"t":37.9,"tl":37.3,"th":38.5,"g":0.14,"gl":0.07,"gh":0.27},
      {"h":112,"t":37.8,"tl":37.2,"th":38.4,"g":0.08,"gl":0.05,"gh":0.11},
      {"h":113,"t":37.0,"tl":36.3,"th":37.7,"g":0.07,"gl":0.05,"gh":0.1},
      {"h":114,"t":35.9,"tl":35.1,"th":36.7,"g":0.06,"gl":0.04,"gh":0.09},
      {"h":115,"t":35.0,"tl":34.2,"th":35.8,"g":0.08,"gl":0.05,"gh":0.11},
      {"h":116,"t":34.9,"tl":34.1,"th":35.7,"g":0.07,"gl":0.05,"gh":0.1},
      {"h":117,"t":35.1,"tl":34.3,"th":35.9,"g":0.09,"gl":0.06,"gh":0.13},
      {"h":118,"t":34.8,"tl":34.0,"th":35.6,"g":0.06,"gl":0.04,"gh":0.09},
      {"h":119,"t":35.2,"tl":34.4,"th":36.0,"g":0.05,"gl":0.03,"gh":0.08},
      {"h":120,"t":34.6,"tl":33.8,"th":35.4,"g":0.06,"gl":0.04,"gh":0.09},
      {"h":121,"t":34.9,"tl":34.1,"th":35.7,"g":0.08,"gl":0.05,"gh":0.11},
      {"h":122,"t":35.0,"tl":34.2,"th":35.8,"g":0.07,"gl":0.05,"gh":0.1},
      {"h":123,"t":34.9,"tl":34.1,"th":35.7,"g":0.06,"gl":0.04,"gh":0.09},
      {"h":124,"t":34.8,"tl":34.0,"th":35.6,"g":0.05,"gl":0.03,"gh":0.08},
      {"h":125,"t":35.1,"tl":34.3,"th":35.9,"g":0.06,"gl":0.04,"gh":0.09},
      {"h":126,"t":36.4,"tl":35.1,"th":37.7,"g":0.09,"gl":0.06,"gh":0.12},
      {"h":127,"t":36.8,"tl":35.5,"th":38.1,"g":0.08,"gl":0.05,"gh":0.11},
      {"h":128,"t":36.8,"tl":35.5,"th":38.1,"g":0.08,"gl":0.05,"gh":0.11},
      {"h":129,"t":36.9,"tl":35.6,"th":38.2,"g":0.09,"gl":0.06,"gh":0.12},
      {"h":130,"t":36.9,"tl":35.6,"th":38.2,"g":0.1,"gl":0.07,"gh":0.13},
      {"h":131,"t":37.0,"tl":35.7,"th":38.3,"g":0.11,"gl":0.08,"gh":0.14},
      {"h":132,"t":37.2,"tl":36.0,"th":38.4,"g":0.14,"gl":0.08,"gh":0.22},
      {"h":133,"t":37.5,"tl":36.5,"th":38.5,"g":0.12,"gl":0.08,"gh":0.16},
      {"h":134,"t":38.2,"tl":37.6,"th":38.8,"g":0.25,"gl":0.12,"gh":0.33},
      {"h":135,"t":37.6,"tl":37.0,"th":38.2,"g":0.12,"gl":0.08,"gh":0.16},
      {"h":136,"t":36.2,"tl":35.6,"th":36.8,"g":0.07,"gl":0.05,"gh":0.1},
      {"h":137,"t":34.8,"tl":33.4,"th":35.8,"g":0.06,"gl":0.04,"gh":0.09},
      {"h":138,"t":33.6,"tl":31.6,"th":34.8,"g":0.05,"gl":0.03,"gh":0.08},
      {"h":139,"t":34.0,"tl":32.2,"th":35.0,"g":0.06,"gl":0.04,"gh":0.09},
      {"h":140,"t":34.3,"tl":33.2,"th":35.3,"g":0.07,"gl":0.05,"gh":0.1},
      {"h":141,"t":34.5,"tl":33.7,"th":35.3,"g":0.06,"gl":0.04,"gh":0.09},
      {"h":142,"t":34.5,"tl":33.7,"th":35.3,"g":0.05,"gl":0.03,"gh":0.08},
      {"h":143,"t":34.7,"tl":33.9,"th":35.5,"g":0.03,"gl":0.02,"gh":0.05},
      {"h":144,"t":35.1,"tl":34.3,"th":35.9,"g":0.05,"gl":0.03,"gh":0.08},
      {"h":145,"t":35.4,"tl":34.6,"th":36.2,"g":0.07,"gl":0.05,"gh":0.1},
      {"h":146,"t":35.5,"tl":34.7,"th":36.4,"g":0.08,"gl":0.05,"gh":0.11},
      {"h":147,"t":35.5,"tl":34.6,"th":36.6,"g":0.06,"gl":0.04,"gh":0.09},
      {"h":148,"t":35.6,"tl":34.6,"th":36.8,"g":0.07,"gl":0.05,"gh":0.1},
      {"h":149,"t":35.7,"tl":34.7,"th":36.9,"g":0.08,"gl":0.05,"gh":0.11},
      {"h":150,"t":35.5,"tl":34.5,"th":36.5,"g":0.07,"gl":0.05,"gh":0.1},
      {"h":151,"t":35.8,"tl":35.0,"th":36.6,"g":0.1,"gl":0.07,"gh":0.13},
      {"h":152,"t":36.9,"tl":36.3,"th":37.5,"g":0.09,"gl":0.06,"gh":0.12},
      {"h":153,"t":37.4,"tl":36.9,"th":37.9,"g":0.1,"gl":0.07,"gh":0.13},
      {"h":154,"t":37.6,"tl":37.1,"th":38.1,"g":0.11,"gl":0.08,"gh":0.14},
      {"h":155,"t":37.7,"tl":37.2,"th":38.2,"g":0.17,"gl":0.09,"gh":0.28},
      {"h":156,"t":37.7,"tl":37.2,"th":38.2,"g":0.12,"gl":0.08,"gh":0.16},
      {"h":157,"t":37.8,"tl":37.3,"th":38.3,"g":0.1,"gl":0.07,"gh":0.13},
      {"h":158,"t":37.8,"tl":37.3,"th":38.3,"g":0.12,"gl":0.08,"gh":0.2},
      {"h":159,"t":37.9,"tl":37.4,"th":38.4,"g":0.09,"gl":0.06,"gh":0.12},
      {"h":160,"t":37.1,"tl":36.3,"th":37.9,"g":0.08,"gl":0.05,"gh":0.11},
      {"h":161,"t":36.6,"tl":35.8,"th":37.4,"g":0.07,"gl":0.05,"gh":0.1},
      {"h":162,"t":36.1,"tl":35.3,"th":36.9,"g":0.08,"gl":0.05,"gh":0.11},
      {"h":163,"t":35.9,"tl":35.1,"th":36.7,"g":0.07,"gl":0.05,"gh":0.1},
      {"h":164,"t":35.9,"tl":35.0,"th":36.8,"g":0.08,"gl":0.05,"gh":0.11},
      {"h":165,"t":36.0,"tl":35.1,"th":36.9,"g":0.18,"gl":0.08,"gh":0.28},
      {"h":166,"t":36.2,"tl":35.3,"th":37.1,"g":0.07,"gl":0.05,"gh":0.1},
      {"h":167,"t":36.2,"tl":35.3,"th":37.1,"g":0.06,"gl":0.04,"gh":0.09},
      {"h":168,"t":35.9,"tl":35.0,"th":36.8,"g":0.07,"gl":0.05,"gh":0.1},
      {"h":169,"t":35.6,"tl":34.7,"th":36.5,"g":0.08,"gl":0.05,"gh":0.11},
      {"h":170,"t":35.7,"tl":34.8,"th":36.6,"g":0.14,"gl":0.07,"gh":0.24},
      {"h":171,"t":36.0,"tl":35.1,"th":36.9,"g":0.07,"gl":0.05,"gh":0.1},
      {"h":172,"t":36.2,"tl":35.3,"th":37.1,"g":0.06,"gl":0.04,"gh":0.09},
      {"h":173,"t":36.3,"tl":35.4,"th":37.2,"g":0.08,"gl":0.05,"gh":0.11},
      {"h":174,"t":36.6,"tl":35.7,"th":37.5,"g":0.09,"gl":0.06,"gh":0.12},
      {"h":175,"t":38.0,"tl":37.6,"th":38.4,"g":0.1,"gl":0.06,"gh":0.24},
      {"h":176,"t":38.1,"tl":37.7,"th":38.5,"g":0.12,"gl":0.08,"gh":0.16},
      {"h":177,"t":38.0,"tl":37.6,"th":38.4,"g":0.1,"gl":0.07,"gh":0.13},
      {"h":178,"t":37.9,"tl":37.5,"th":38.3,"g":0.11,"gl":0.08,"gh":0.14},
      {"h":179,"t":38.2,"tl":37.8,"th":38.6,"g":0.12,"gl":0.08,"gh":0.16},
      {"h":180,"t":38.4,"tl":38.0,"th":38.8,"g":0.13,"gl":0.09,"gh":0.17},
      {"h":181,"t":38.8,"tl":38.4,"th":39.1,"g":0.15,"gl":0.1,"gh":0.2},
      {"h":182,"t":38.4,"tl":37.9,"th":38.8,"g":0.2,"gl":0.1,"gh":0.33},
      {"h":183,"t":36.6,"tl":35.8,"th":37.4,"g":0.08,"gl":0.05,"gh":0.11},
      {"h":184,"t":36.0,"tl":35.2,"th":36.8,"g":0.07,"gl":0.05,"gh":0.1},
      {"h":185,"t":34.2,"tl":33.4,"th":35.0,"g":0.06,"gl":0.04,"gh":0.09},
      {"h":186,"t":33.1,"tl":31.7,"th":34.1,"g":0.07,"gl":0.05,"gh":0.1},
      {"h":187,"t":33.0,"tl":31.6,"th":34.0,"g":0.06,"gl":0.04,"gh":0.09},
      {"h":188,"t":34.9,"tl":33.5,"th":35.9,"g":0.08,"gl":0.05,"gh":0.11},
      {"h":189,"t":34.9,"tl":34.1,"th":35.7,"g":0.07,"gl":0.05,"gh":0.1},
      {"h":190,"t":34.6,"tl":33.8,"th":35.4,"g":0.06,"gl":0.04,"gh":0.09},
      {"h":191,"t":34.5,"tl":33.7,"th":35.3,"g":0.08,"gl":0.05,"gh":0.11},
      {"h":192,"t":35.2,"tl":34.4,"th":36.0,"g":0.1,"gl":0.06,"gh":0.17},
      {"h":193,"t":35.3,"tl":34.5,"th":36.1,"g":0.08,"gl":0.05,"gh":0.11},
      {"h":194,"t":34.6,"tl":33.8,"th":35.4,"g":0.1,"gl":0.07,"gh":0.13},
      {"h":195,"t":34.1,"tl":33.3,"th":34.9,"g":0.06,"gl":0.04,"gh":0.09},
      {"h":196,"t":34.2,"tl":33.4,"th":35.0,"g":0.05,"gl":0.03,"gh":0.08},
      {"h":197,"t":34.3,"tl":33.5,"th":35.1,"g":0.06,"gl":0.04,"gh":0.09},
      {"h":198,"t":34.4,"tl":33.6,"th":35.2,"g":0.05,"gl":0.03,"gh":0.08},
      {"h":199,"t":34.6,"tl":33.8,"th":35.4,"g":0.07,"gl":0.05,"gh":0.1},
      {"h":200,"t":35.1,"tl":34.3,"th":35.9,"g":0.06,"gl":0.04,"gh":0.09},
      {"h":201,"t":35.6,"tl":34.9,"th":36.3,"g":0.07,"gl":0.05,"gh":0.1},
      {"h":202,"t":36.5,"tl":35.8,"th":37.2,"g":0.08,"gl":0.05,"gh":0.11},
      {"h":203,"t":37.3,"tl":36.6,"th":38.0,"g":0.1,"gl":0.07,"gh":0.13},
      {"h":204,"t":37.7,"tl":37.0,"th":38.4,"g":0.12,"gl":0.08,"gh":0.16},
      {"h":205,"t":37.8,"tl":37.1,"th":38.5,"g":0.22,"gl":0.1,"gh":0.33},
      {"h":206,"t":37.5,"tl":36.8,"th":38.2,"g":0.1,"gl":0.07,"gh":0.13},
      {"h":207,"t":37.0,"tl":35.8,"th":37.8,"g":0.07,"gl":0.05,"gh":0.1},
      {"h":208,"t":36.3,"tl":35.1,"th":37.1,"g":0.06,"gl":0.04,"gh":0.09},
      {"h":209,"t":35.5,"tl":34.3,"th":36.3,"g":0.05,"gl":0.03,"gh":0.08},
      {"h":210,"t":34.6,"tl":33.4,"th":35.4,"g":0.06,"gl":0.04,"gh":0.09},
      {"h":211,"t":33.5,"tl":32.0,"th":34.4,"g":0.04,"gl":0.02,"gh":0.06},
      {"h":212,"t":35.0,"tl":33.8,"th":35.8,"g":0.05,"gl":0.03,"gh":0.08},
      {"h":213,"t":35.4,"tl":34.6,"th":36.2,"g":0.07,"gl":0.05,"gh":0.1},
      {"h":214,"t":35.4,"tl":34.6,"th":36.2,"g":0.1,"gl":0.06,"gh":0.19},
      {"h":215,"t":34.9,"tl":34.1,"th":35.7,"g":0.06,"gl":0.04,"gh":0.09},
      {"h":216,"t":34.7,"tl":33.9,"th":35.5,"g":0.07,"gl":0.05,"gh":0.1},
      {"h":217,"t":34.5,"tl":33.7,"th":35.3,"g":0.08,"gl":0.05,"gh":0.11},
      {"h":218,"t":34.4,"tl":33.6,"th":35.2,"g":0.06,"gl":0.04,"gh":0.09},
      {"h":219,"t":34.2,"tl":33.4,"th":35.0,"g":0.07,"gl":0.05,"gh":0.1},
      {"h":220,"t":34.1,"tl":33.3,"th":34.9,"g":0.08,"gl":0.05,"gh":0.11},
      {"h":221,"t":34.2,"tl":33.4,"th":35.0,"g":0.09,"gl":0.06,"gh":0.12},
      {"h":222,"t":35.0,"tl":34.4,"th":35.6,"g":0.1,"gl":0.07,"gh":0.13},
      {"h":223,"t":35.8,"tl":35.2,"th":36.4,"g":0.08,"gl":0.05,"gh":0.11},
      {"h":224,"t":36.5,"tl":35.9,"th":37.1,"g":0.09,"gl":0.06,"gh":0.12},
      {"h":225,"t":37.3,"tl":36.7,"th":37.9,"g":0.1,"gl":0.07,"gh":0.13},
      {"h":226,"t":38.0,"tl":37.4,"th":38.6,"g":0.15,"gl":0.08,"gh":0.22},
      {"h":227,"t":38.3,"tl":37.7,"th":38.9,"g":0.1,"gl":0.07,"gh":0.13},
      {"h":228,"t":38.3,"tl":37.7,"th":38.9,"g":0.09,"gl":0.06,"gh":0.12},
      {"h":229,"t":38.6,"tl":38.1,"th":39.0,"g":0.12,"gl":0.08,"gh":0.16},
      {"h":230,"t":38.3,"tl":37.7,"th":38.9,"g":0.2,"gl":0.08,"gh":0.25},
      {"h":231,"t":37.7,"tl":36.9,"th":38.5,"g":0.09,"gl":0.06,"gh":0.12},
      {"h":232,"t":36.9,"tl":36.1,"th":37.7,"g":0.05,"gl":0.03,"gh":0.08},
      {"h":233,"t":36.0,"tl":35.2,"th":36.8,"g":0.08,"gl":0.05,"gh":0.11},
      {"h":234,"t":35.3,"tl":34.5,"th":36.1,"g":0.09,"gl":0.06,"gh":0.12},
      {"h":235,"t":35.2,"tl":34.4,"th":36.0,"g":0.1,"gl":0.07,"gh":0.13},
      {"h":236,"t":35.2,"tl":34.4,"th":36.0,"g":0.12,"gl":0.06,"gh":0.25},
      {"h":237,"t":35.3,"tl":34.5,"th":36.1,"g":0.08,"gl":0.05,"gh":0.11},
      {"h":238,"t":36.2,"tl":35.4,"th":37.0,"g":0.1,"gl":0.06,"gh":0.19},
      {"h":239,"t":36.3,"tl":35.5,"th":37.1,"g":0.07,"gl":0.05,"gh":0.1},
      {"h":240,"t":35.6,"tl":34.8,"th":36.4,"g":0.06,"gl":0.04,"gh":0.09}
    ]
  },
  "vconcat": [
    {
      "width": 1138,
      "height": 232,
      "resolve": {"scale": {"y": "independent"}, "axis": {"x": "independent"}},
      "layer": [
        {
          "layer": [
            {
              "data": {"values": [{}]},
              "mark": {"type": "rect", "fill": "#000", "fillOpacity": 0.045, "stroke": "#555", "strokeWidth": 1.5},
              "encoding": {
                "x": {
                  "datum": -12.44, "type": "quantitative", "scale": {"domain": [0, 240], "nice": false, "zero": false},
                  "axis": {
                    "orient": "bottom", "title": null, "tickCount": 100, "values": [0,6,12,18,24,30,36,42,48,54,60,66,72,78,84,90,96,102,108,114,120,126,132,138,144,150,156,162,168,174,180,186,192,198,204,210,216,222,228,234],
                    "labelExpr": "datum.value % 24", "labelAngle": 270, "labelFontSize": 26, "labelPadding": 7,
                    "offset": 7, "domain": false, "grid": false, "ticks": false,
                    "labelFlush": false, "labelOverlap": false, "labelBound": false
                  }
                },
                "x2": {"datum": 250.5},
                "y": {
                  "datum": 27.02, "type": "quantitative", "scale": {"domain": [29, 39], "nice": false, "zero": false},
                  "axis": {
                    "orient": "left", "title": null, "tickCount": 100, "values": [29,30,31,32,33,34,35,36,37,38,39], "format": "d",
                    "grid": true, "gridColor": "#2a2a2a", "gridWidth": 1.5,
                    "domain": true, "domainColor": "#222", "domainWidth": 1.5,
                    "ticks": true, "tickSize": 5, "tickColor": "#222", "labelFontSize": 22, "labelPadding": 5,
                    "labelOverlap": false, "labelBound": false
                  }
                },
                "y2": {"datum": 39.78}
              }
            },
            {
              "data": {"name": "nightA"},
              "mark": {"type": "rect", "fill": "#000", "fillOpacity": 0.11, "stroke": "#1a1a1a", "strokeWidth": 1.8},
              "encoding": {
                "x": {"field": "s", "type": "quantitative"},
                "x2": {"field": "e"},
                "y": {"datum": 29, "type": "quantitative"},
                "y2": {"datum": 39.15}
              }
            },
            {
              "data": {"values": [{}]},
              "mark": {"type": "rect", "fill": "#111"},
              "encoding": {
                "x": {"datum": 1, "type": "quantitative"},
                "x2": {"datum": 240},
                "y": {"datum": 28.7, "type": "quantitative"},
                "y2": {"datum": 29.17}
              }
            },
            {
              "data": {"values": [{}]},
              "mark": {"type": "text", "text": "AUTUMN", "align": "left", "baseline": "alphabetic", "fontSize": 27, "font": "Liberation Serif", "color": "#111"},
              "encoding": {
                "x": {"datum": 5.9, "type": "quantitative"},
                "y": {"datum": 38.53, "type": "quantitative"}
              }
            },
            {
              "data": {"name": "autumn"},
              "mark": {"type": "rule", "color": "#7d7d7d", "strokeWidth": 4.6},
              "encoding": {
                "x": {"field": "h", "type": "quantitative"},
                "y": {"field": "tl", "type": "quantitative"},
                "y2": {"field": "th"}
              }
            },
            {
              "data": {"name": "autumn"},
              "mark": {"type": "point", "shape": "square", "filled": true, "size": 30, "opacity": 1},
              "encoding": {
                "x": {"field": "h", "type": "quantitative"},
                "y": {"field": "t", "type": "quantitative"},
                "color": {
                  "datum": "T", "type": "nominal",
                  "scale": {"domain": ["T", "dG"], "range": ["#111111", "#1c1c1c"]},
                  "legend": {
                    "orient": "none", "legendX": 953, "legendY": 96, "direction": "horizontal", "title": null,
                    "symbolType": "stroke", "symbolSize": 1600, "symbolStrokeWidth": 2.5, "symbolStrokeColor": "#111",
                    "labelFontSize": 27, "labelFont": "Liberation Serif", "labelColor": "#111", "labelOffset": 2,
                    "columnPadding": 10, "padding": 5, "strokeColor": "#444", "labelLimit": 0,
                    "encode": {"symbols": {"update": {"stroke": {"value": "#111"}, "strokeWidth": {"value": 2.5}, "size": {"value": 1600}, "shape": {"value": "stroke"}}}}
                  }
                }
              }
            }
          ]
        },
        {
          "data": {"name": "autumn"},
          "layer": [
            {
              "mark": {"type": "rule", "color": "#8c8c8c", "strokeWidth": 2, "strokeDash": [1.5, 1]},
              "encoding": {
                "x": {
                  "field": "h", "type": "quantitative",
                  "axis": {
                    "orient": "bottom", "title": null, "labels": false, "domain": false, "grid": false, "tickCount": 100,
                    "values": [6,11.7,17.3,23,28.7,34.3,40,45.7,51.3,57,62.7,68.3,74,79.7,85.3,91,96.7,102.3,108,113.7,119.3,125,130.7,136.3,142,147.7,153.3,159,164.7,170.3,176,181.7,187.3,193,198.7,204.3,210,215.7,221.3,227,232.7,238.3],
                    "ticks": true, "tickSize": -11, "tickColor": "#eeeeee", "tickWidth": 2, "offset": 7, "zindex": 1
                  }
                },
                "y": {
                  "field": "gl", "type": "quantitative",
                  "scale": {"domain": [0, 0.8], "nice": false},
                  "axis": {
                    "orient": "right", "title": null, "tickCount": 100, "values": [0,0.1,0.2,0.3,0.4,0.5,0.6,0.7,0.8], "format": "~g",
                    "grid": false, "domain": true, "domainColor": "#222", "domainWidth": 1.5,
                    "ticks": true, "tickSize": 6, "tickColor": "#222", "labelFontSize": 24, "labelPadding": 6,
                    "labelOverlap": false, "labelBound": false
                  }
                },
                "y2": {"field": "gh"}
              }
            },
            {
              "mark": {"type": "line", "color": "#222", "strokeWidth": 2.4},
              "encoding": {
                "x": {"field": "h", "type": "quantitative"},
                "y": {"field": "g", "type": "quantitative"}
              }
            },
            {
              "mark": {"type": "point", "shape": "diamond", "filled": true, "size": 26, "opacity": 1},
              "encoding": {
                "x": {"field": "h", "type": "quantitative"},
                "y": {"field": "g", "type": "quantitative"},
                "color": {"datum": "dG", "type": "nominal"}
              }
            }
          ]
        }
      ]
    },
    {
      "width": 1135,
      "height": 239,
      "resolve": {"scale": {"y": "independent"}, "axis": {"x": "independent"}},
      "layer": [
        {
          "layer": [
            {
              "data": {"values": [{}]},
              "mark": {"type": "rect", "fill": "#000", "fillOpacity": 0.045, "stroke": "#555", "strokeWidth": 1.5},
              "encoding": {
                "x": {
                  "datum": -12.47, "type": "quantitative", "scale": {"domain": [0, 240], "nice": false, "zero": false},
                  "axis": {
                    "orient": "bottom", "title": null, "tickCount": 100, "values": [0,6,12,18,24,30,36,42,48,54,60,66,72,78,84,90,96,102,108,114,120,126,132,138,144,150,156,162,168,174,180,186,192,198,204,210,216,222,228,234],
                    "labelExpr": "datum.value % 24", "labelAngle": 270, "labelFontSize": 26, "labelPadding": 5,
                    "offset": 7, "domain": false, "grid": false, "ticks": false,
                    "labelFlush": false, "labelOverlap": false, "labelBound": false
                  }
                },
                "x2": {"datum": 250.5},
                "y": {
                  "datum": 27.16, "type": "quantitative", "scale": {"domain": [29, 39], "nice": false, "zero": false},
                  "axis": {
                    "orient": "left", "title": null, "tickCount": 100, "values": [29,30,31,32,33,34,35,36,37,38,39], "format": "d",
                    "grid": true, "gridColor": "#2a2a2a", "gridWidth": 1.5,
                    "domain": true, "domainColor": "#222", "domainWidth": 1.5,
                    "ticks": true, "tickSize": 5, "tickColor": "#222", "labelFontSize": 22, "labelPadding": 8,
                    "labelOverlap": false, "labelBound": false
                  }
                },
                "y2": {"datum": 39.8}
              }
            },
            {
              "data": {"name": "nightW"},
              "mark": {"type": "rect", "fill": "#000", "fillOpacity": 0.11, "stroke": "#1a1a1a", "strokeWidth": 1.8},
              "encoding": {
                "x": {"field": "s", "type": "quantitative"},
                "x2": {"field": "e"},
                "y": {"datum": 29, "type": "quantitative"},
                "y2": {"datum": 39}
              }
            },
            {
              "data": {"values": [{}]},
              "mark": {"type": "rect", "fill": "#111"},
              "encoding": {
                "x": {"datum": 0.6, "type": "quantitative"},
                "x2": {"datum": 240},
                "y": {"datum": 28.7, "type": "quantitative"},
                "y2": {"datum": 29.17}
              }
            },
            {
              "data": {"values": [{}]},
              "mark": {"type": "text", "text": "WINTER", "align": "left", "baseline": "alphabetic", "fontSize": 27, "font": "Liberation Serif", "color": "#111"},
              "encoding": {
                "x": {"datum": 5.3, "type": "quantitative"},
                "y": {"datum": 38.58, "type": "quantitative"}
              }
            },
            {
              "data": {"name": "winter"},
              "mark": {"type": "rule", "color": "#a3a3a3", "strokeWidth": 3.8, "strokeDash": [1.5, 1]},
              "encoding": {
                "x": {"field": "h", "type": "quantitative"},
                "y": {"field": "tl", "type": "quantitative"},
                "y2": {"field": "th"}
              }
            },
            {
              "data": {"name": "winter"},
              "mark": {"type": "point", "shape": "square", "filled": true, "size": 30, "opacity": 1},
              "encoding": {
                "x": {"field": "h", "type": "quantitative"},
                "y": {"field": "t", "type": "quantitative"},
                "color": {
                  "datum": "T", "type": "nominal",
                  "scale": {"domain": ["T", "dG"], "range": ["#111111", "#1c1c1c"]},
                  "legend": {
                    "orient": "none", "legendX": 886, "legendY": -19, "direction": "horizontal", "title": null,
                    "symbolType": "stroke", "symbolSize": 1600, "symbolStrokeWidth": 2.5, "symbolStrokeColor": "#111",
                    "labelFontSize": 27, "labelFont": "Liberation Serif", "labelColor": "#111", "labelOffset": 2,
                    "columnPadding": 8, "padding": 6, "strokeColor": "#444", "labelLimit": 0,
                    "encode": {"symbols": {"update": {"stroke": {"value": "#111"}, "strokeWidth": {"value": 2.5}, "size": {"value": 1600}, "shape": {"value": "stroke"}}}}
                  }
                }
              }
            }
          ]
        },
        {
          "data": {"name": "winter"},
          "layer": [
            {
              "mark": {"type": "rule", "color": "#8c8c8c", "strokeWidth": 2, "strokeDash": [1.5, 1]},
              "encoding": {
                "x": {
                  "field": "h", "type": "quantitative",
                  "axis": {
                    "orient": "bottom", "title": null, "labels": false, "domain": false, "grid": false, "tickCount": 100,
                    "values": [5.7,11.4,17.1,22.7,28.4,34.1,39.8,45.5,51.1,56.8,62.5,68.2,73.9,79.5,85.2,90.9,96.6,102.3,107.9,113.6,119.3,125,130.7,136.3,142,147.7,153.4,159.1,164.7,170.4,176.1,181.8,187.5,193.1,198.8,204.5,210.2,215.9,221.5,227.2,232.9,238.6],
                    "ticks": true, "tickSize": -11, "tickColor": "#eeeeee", "tickWidth": 2, "offset": 7, "zindex": 1
                  }
                },
                "y": {
                  "field": "gl", "type": "quantitative",
                  "scale": {"domain": [0, 0.8], "nice": false},
                  "axis": {
                    "orient": "right", "title": null, "tickCount": 100, "values": [0,0.1,0.2,0.3,0.4,0.5,0.6,0.7,0.8], "format": "~g",
                    "grid": false, "domain": true, "domainColor": "#222", "domainWidth": 1.5,
                    "ticks": true, "tickSize": 6, "tickColor": "#222", "labelFontSize": 24, "labelPadding": 4,
                    "labelOverlap": false, "labelBound": false
                  }
                },
                "y2": {"field": "gh"}
              }
            },
            {
              "mark": {"type": "line", "color": "#222", "strokeWidth": 2.4},
              "encoding": {
                "x": {"field": "h", "type": "quantitative"},
                "y": {"field": "g", "type": "quantitative"}
              }
            },
            {
              "mark": {"type": "point", "shape": "diamond", "filled": true, "size": 26, "opacity": 1},
              "encoding": {
                "x": {"field": "h", "type": "quantitative"},
                "y": {"field": "g", "type": "quantitative"},
                "color": {"datum": "dG", "type": "nominal"}
              }
            }
          ]
        }
      ]
    }
  ]
}
